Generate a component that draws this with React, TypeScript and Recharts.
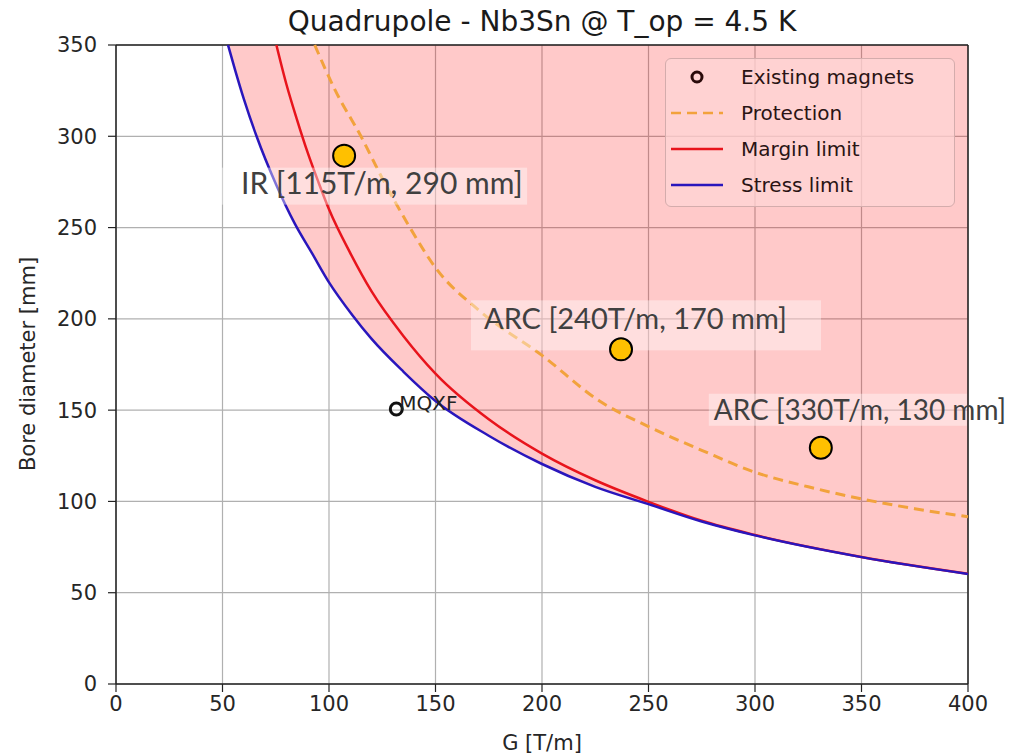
import React from 'react';
import {
  ComposedChart,
  Area,
  Line,
  Scatter,
  XAxis,
  YAxis,
  CartesianGrid,
  ReferenceLine,
  Legend,
} from 'recharts';

// G [T/m] vs bore diameter [mm]
const stressG = [52.6, 56, 60, 66, 75, 84, 92, 100, 111, 120, 135, 150, 175, 200, 225, 250, 275, 300, 350, 400];
const stressD = [350, 336, 320.5, 300, 274, 252, 236, 220, 202, 189, 171, 155, 136, 120.5, 108, 98.5, 89, 81.4, 69.5, 60.3];

const marginG = [75.3, 80, 85, 90, 95, 100, 110, 120, 135, 150, 175, 200, 225, 250, 275, 300, 350, 400];
const marginD = [350, 328.5, 309, 291, 275, 260, 236, 215, 190.5, 170, 145, 126.2, 111.6, 99.8, 89.4, 81.6, 69.6, 60.4];

const protectionG = [93.3, 103, 115, 125, 138, 150, 170, 200, 227, 250, 275, 300, 325, 350, 375, 400];
const protectionD = [350, 325, 300, 277, 250, 228, 205, 180, 155, 141, 128, 116, 108, 101.4, 96, 91.6];

const existingG = [131.6];
const existingD = [150.6];
const existingNames = ['MQXF'];

const designG = [107.1, 237.1, 330.9];
const designD = [289.4, 183.3, 129.4];
const designLabels = ['IR [115T/m, 290 mm]', 'ARC [240T/m, 170 mm]', 'ARC [330T/m, 130 mm]'];

const gTicks = [0, 50, 100, 150, 200, 250, 300, 350, 400];
const dTicks = [0, 50, 100, 150, 200, 250, 300, 350];
const D_MAX = 350;

const legendNames = ['Existing magnets', 'Protection', 'Margin limit', 'Stress limit'];

const FONT = 'DejaVu Sans';
const ORANGE = '#f2a23c';
const RED = '#e8141c';
const BLUE = '#2a16bc';

// placement of the pasted-in callout boxes, relative to their marker
const calloutBoxes = [
  { bx: -123, by: 12, bw: 306, bh: 37, tx: -103, ty: 38, fs: 30 },
  { bx: -150, by: -49, bw: 350, bh: 50, tx: -137, ty: -20, fs: 29 },
  { bx: -112, by: -54, bw: 258, bh: 32, tx: -107, ty: -28, fs: 28 },
];

const stressData = stressG.map((g, i) => ({ g, d: stressD[i] }));
const bandData = stressG.map((g, i) => ({ g, band: [stressD[i], D_MAX] }));
const marginData = marginG.map((g, i) => ({ g, d: marginD[i] }));
const protectionData = protectionG.map((g, i) => ({ g, d: protectionD[i] }));
const existingData = existingG.map((g, i) => ({ g, d: existingD[i], name: existingNames[i] }));
const designData = designG.map((g, i) => ({ g, d: designD[i], label: designLabels[i], i }));

function ExistingMarker(props: any) {
  const { cx, cy, payload } = props;
  return (
    <g>
      <circle cx={cx} cy={cy} r={6} fill="none" stroke="#111" strokeWidth={3} />
      <text x={cx + 3} y={cy + 1} fontFamily={FONT} fontSize={20} fill="#222">
        {payload.name}
      </text>
    </g>
  );
}

function DesignMarker(props: any) {
  const { cx, cy, payload } = props;
  const c = calloutBoxes[payload.i];
  return (
    <g>
      <rect x={cx + c.bx} y={cy + c.by} width={c.bw} height={c.bh} fill="#ffffff" fillOpacity={0.4} />
      <text x={cx + c.tx} y={cy + c.ty} fontFamily="Lato" fontSize={c.fs} fill="#404040">
        {payload.label}
      </text>
      <circle cx={cx} cy={cy} r={11} fill="#ffc000" stroke="#000" strokeWidth={2} />
    </g>
  );
}

function LegendBox() {
  return (
    <div
      style={{
        position: 'relative',
        width: 290,
        height: 149,
        boxSizing: 'border-box',
        border: '1px solid #d4acac',
        borderRadius: 6,
        background: 'rgba(255, 212, 212, 0.75)',
        fontFamily: FONT,
        fontSize: 20,
        color: '#2a1414',
      }}
    >
      {legendNames.map((name, i) => (
        <div
          key={name}
          style={{ position: 'absolute', left: 0, top: i * 36, height: 36, display: 'flex', alignItems: 'center' }}
        >
          <svg width={75} height={36}>
            {i === 0 && <circle cx={31} cy={18} r={5} fill="none" stroke="#2a0a0a" strokeWidth={3} />}
            {i === 1 && <line x1={5} y1={18} x2={57} y2={18} stroke={ORANGE} strokeWidth={2.5} strokeDasharray="10 6" />}
            {i === 2 && <line x1={5} y1={18} x2={57} y2={18} stroke={RED} strokeWidth={2.5} />}
            {i === 3 && <line x1={5} y1={18} x2={57} y2={18} stroke={BLUE} strokeWidth={2.5} />}
          </svg>
          <span style={{ whiteSpace: 'nowrap' }}>{name}</span>
        </div>
      ))}
    </div>
  );
}

export default function App() {
  const tick = { fontSize: 21, fill: '#262626', fontFamily: FONT };
  return (
    <div style={{ position: 'absolute', left: 0, top: 0, width: 1015, height: 756, background: '#fff' }}>
      <div
        style={{
          position: 'absolute',
          left: 116,
          width: 852,
          top: 5,
          textAlign: 'center',
          fontFamily: FONT,
          fontSize: 28,
          color: '#1a1a1a',
          lineHeight: '34px',
        }}
      >
        Quadrupole - Nb3Sn @ T_op = 4.5 K
      </div>
      <ComposedChart width={1015} height={756} margin={{ top: 45, right: 47, bottom: 0, left: 0 }}>
        <CartesianGrid stroke="#b0b0b0" strokeWidth={1.2} />
        <XAxis
          dataKey="g"
          type="number"
          domain={[0, 400]}
          ticks={gTicks}
          height={72}
          tick={tick}
          tickSize={8}
          tickMargin={4}
          axisLine={{ stroke: '#222', strokeWidth: 1.5 }}
          tickLine={{ stroke: '#222', strokeWidth: 1.2 }}
          label={() => (
            <text x={542} y={750} textAnchor="middle" fontFamily={FONT} fontSize={21} fill="#262626">
              G [T/m]
            </text>
          )}
        />
        <YAxis
          dataKey="d"
          type="number"
          domain={[0, D_MAX]}
          ticks={dTicks}
          width={116}
          tick={tick}
          tickSize={8}
          tickMargin={11}
          axisLine={{ stroke: '#222', strokeWidth: 1.5 }}
          tickLine={{ stroke: '#222', strokeWidth: 1.2 }}
          label={() => (
            <text
              x={28}
              y={364}
              transform="rotate(-90 28 364)"
              textAnchor="middle"
              dominantBaseline="central"
              fontFamily={FONT}
              fontSize={21}
              fill="#262626"
            >
              Bore diameter [mm]
            </text>
          )}
        />
        <Area
          data={bandData}
          dataKey="band"
          type="monotone"
          stroke="none"
          fill="#ff0000"
          fillOpacity={0.21}
          isAnimationActive={false}
          legendType="none"
        />
        <ReferenceLine y={D_MAX} stroke="#222" strokeWidth={1.5} />
        <ReferenceLine x={400} stroke="#222" strokeWidth={1.5} />
        <Line
          data={protectionData}
          dataKey="d"
          type="monotone"
          stroke={ORANGE}
          strokeWidth={3}
          strokeDasharray="10 6"
          dot={false}
          isAnimationActive={false}
        />
        <Line
          data={marginData}
          dataKey="d"
          type="monotone"
          stroke={RED}
          strokeWidth={2.5}
          dot={false}
          isAnimationActive={false}
        />
        <Line
          data={stressData}
          dataKey="d"
          type="monotone"
          stroke={BLUE}
          strokeWidth={2.5}
          dot={false}
          isAnimationActive={false}
        />
        <Scatter data={existingData} dataKey="d" shape={(p: any) => <ExistingMarker {...p} />} isAnimationActive={false} />
        <Scatter data={designData} dataKey="d" shape={(p: any) => <DesignMarker {...p} />} isAnimationActive={false} />
        <Legend
          layout="vertical"
          align="center"
          verticalAlign="middle"
          content={() => <LegendBox />}
          wrapperStyle={{ left: 665, top: 58, width: 290, height: 149 }}
        />
      </ComposedChart>
    </div>
  );
}
